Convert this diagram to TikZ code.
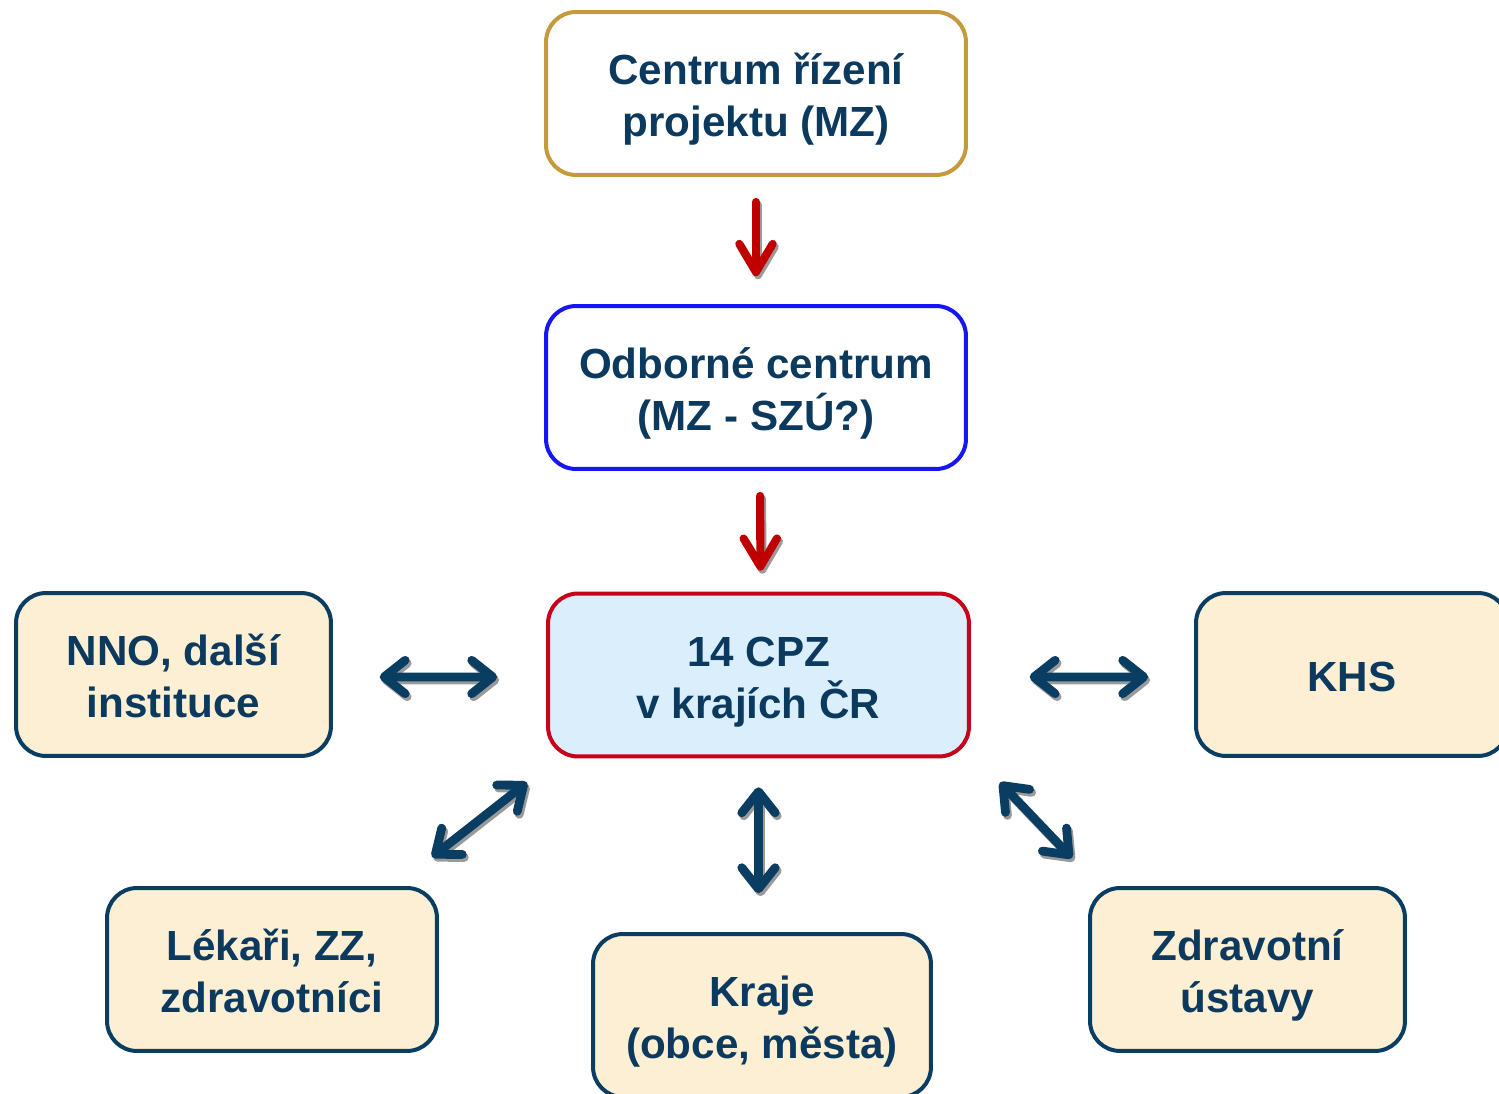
\documentclass[tikz,border=0pt]{standalone}
\usepackage{fontspec}
\setmainfont{Liberation Sans}
\usetikzlibrary{arrows.meta,calc}
\definecolor{txt}{HTML}{0B3A5E}
\definecolor{navy}{HTML}{0A3D62}
\definecolor{beige}{HTML}{FDEFD3}
\definecolor{gold}{HTML}{C49A3C}
\definecolor{blu}{HTML}{1515F5}
\definecolor{redb}{HTML}{C8001A}
\definecolor{lblue}{HTML}{DAEEFC}
\definecolor{redarr}{HTML}{C00000}
\definecolor{shad}{HTML}{9A9A9A}
\newcommand{\toprule}{\rule{0pt}{26.8pt}}
\newcommand{\botrule}{\rule[-7pt]{0pt}{7pt}}
\begin{document}
\begin{tikzpicture}[x=0.02cm,y=-0.02cm,
  box/.style={draw, rounded corners=0.6cm, line width=0.08cm, align=center,
    text=txt, font=\fontsize{24}{29.6}\selectfont\bfseries,
    minimum height=3.26cm, inner sep=0pt},
  side/.style={box, draw=navy, fill=beige},
  redarrow/.style={draw=redarr, line width=4.6pt, line cap=round,
    -{Straight Barb[round,length=16pt,width=19pt]}},
  navyarrow/.style={draw=navy, line width=5pt, line cap=round,
    {Straight Barb[round,length=12pt,width=19pt]}-{Straight Barb[round,length=12pt,width=19pt]}},
  shadowarrow/.style={draw=shad, transform canvas={shift={(2,3)}}},
]
\useasboundingbox (0,0) rectangle (1499,1094);

\node[box, draw=gold, minimum width=8.4cm] (top) at (756,93.5) {\toprule Centrum řízení\\projektu (MZ)\botrule};
\node[box, draw=blu, minimum width=8.4cm] (odb) at (756,387.5) {\toprule Odborné centrum\\(MZ - SZÚ?)\botrule};
\node[box, draw=redb, fill=lblue, minimum width=8.42cm] (cpz) at (758.5,675) {\toprule 14 CPZ\\v krajích ČR\botrule};
\node[side, minimum width=6.3cm] (nno) at (173.5,674.5) {\toprule NNO, další\\instituce\botrule};
\node[side, minimum width=6.24cm] (khs) at (1352,674.5) {\toprule KHS\botrule};
\node[side, minimum width=6.6cm] (lek) at (272,969.5) {\toprule Lékaři, ZZ,\\zdravotníci\botrule};
\node[side, minimum width=6.76cm] (kraje) at (762,1015.5) {\toprule Kraje\\(obce, města)\botrule};
\node[side, minimum width=6.3cm] (zdr) at (1247.5,969.5) {\toprule Zdravotní\\ústavy\botrule};

% red arrows
\draw[redarrow, shadowarrow, shorten <=14.2pt, shorten >=15.9pt] (top.south) -- (odb.north);
\draw[redarrow, shorten <=14.2pt, shorten >=15.9pt] (top.south) -- (odb.north);
\draw[redarrow, shadowarrow, shorten <=14.2pt, shorten >=11.9pt] ($(odb.south)+(4,0)$) -- ($(cpz.north)+(2,0)$);
\draw[redarrow, shorten <=14.2pt, shorten >=11.9pt] ($(odb.south)+(4,0)$) -- ($(cpz.north)+(2,0)$);

% navy arrows
\draw[navyarrow, shadowarrow, shorten <=26.6pt, shorten >=27.8pt] ($(nno.east)+(0,2.5)$) -- ($(cpz.west)+(0,2)$);
\draw[navyarrow, shorten <=26.6pt, shorten >=27.8pt] ($(nno.east)+(0,2.5)$) -- ($(cpz.west)+(0,2)$);
\draw[navyarrow, shadowarrow, shorten <=33.4pt, shorten >=26.1pt] ($(cpz.east)+(0,2)$) -- ($(khs.west)+(0,2.5)$);
\draw[navyarrow, shorten <=33.4pt, shorten >=26.1pt] ($(cpz.east)+(0,2)$) -- ($(khs.west)+(0,2.5)$);
\draw[navyarrow, shadowarrow] ($(cpz.south west)+(-19,24)$) -- ($(lek.north east)+(-7,-29)$);
\draw[navyarrow] ($(cpz.south west)+(-19,24)$) -- ($(lek.north east)+(-7,-29)$);
\draw[navyarrow, shadowarrow, shorten <=16.4pt, shorten >=22.1pt] (cpz.south) -- (cpz.south |- kraje.north);
\draw[navyarrow, shorten <=16.4pt, shorten >=22.1pt] (cpz.south) -- (cpz.south |- kraje.north);
\draw[navyarrow, shadowarrow] ($(cpz.south east)+(29,24)$) -- ($(zdr.north west)+(-16,-28)$);
\draw[navyarrow] ($(cpz.south east)+(29,24)$) -- ($(zdr.north west)+(-16,-28)$);
\end{tikzpicture}
\end{document}
